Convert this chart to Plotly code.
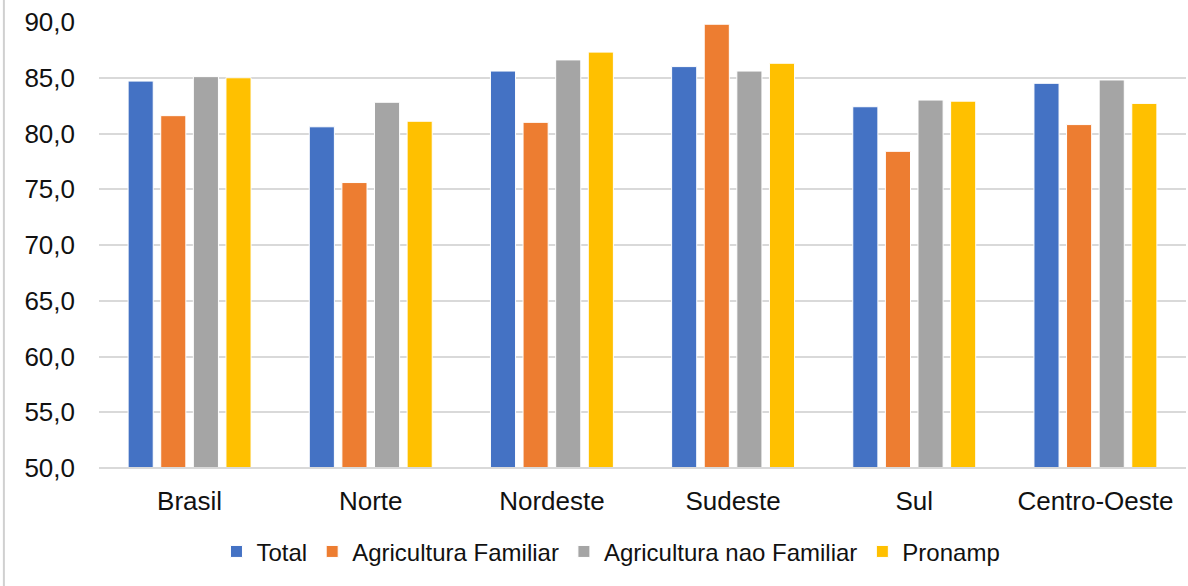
import plotly.graph_objects as go

# data
regioes = ["Brasil", "Norte", "Nordeste", "Sudeste", "Sul", "Centro-Oeste"]
total = [84.7, 80.6, 85.6, 86.0, 82.4, 84.5]
agric_familiar = [81.6, 75.6, 81.0, 89.8, 78.4, 80.8]
agric_nao_familiar = [85.1, 82.8, 86.6, 85.6, 83.0, 84.8]
pronamp = [85.0, 81.1, 87.3, 86.3, 82.9, 82.7]

series = [
    ("Total", total, "#4472C4"),
    ("Agricultura Familiar", agric_familiar, "#ED7D31"),
    ("Agricultura nao Familiar", agric_nao_familiar, "#A5A5A5"),
    ("Pronamp", pronamp, "#FFC000"),
]

fig = go.Figure()
for name, vals, col in series:
    fig.add_trace(go.Bar(
        x=regioes, y=vals, name=name,
        marker=dict(color=col, line=dict(color="white", width=1)),
    ))

font_fam = "Liberation Sans, Arial, sans-serif"

fig.update_layout(
    width=1188, height=586,
    margin=dict(l=99, r=2, t=22, b=118, autoexpand=False),
    paper_bgcolor="white", plot_bgcolor="white",
    separators=",.",
    barmode="group", bargap=0.28, bargroupgap=0.23,
    font=dict(family=font_fam, size=26, color="#111111"),
    showlegend=True,
    legend=dict(
        orientation="h", x=0.471, xanchor="center", y=-0.188, yanchor="middle",
        font=dict(size=24), itemwidth=30, traceorder="normal",
    ),
    xaxis=dict(
        showgrid=False, showline=False, ticks="", automargin=False,
        tickfont=dict(size=26), ticklabelstandoff=15,
    ),
    yaxis=dict(
        range=[50, 90], dtick=5, tickformat=".1f", automargin=False,
        showgrid=True, gridcolor="#D9D9D9", gridwidth=2,
        zeroline=False, showline=False, ticks="",
        ticklabelstandoff=23, tickfont=dict(size=26),
    ),
    shapes=[
        dict(type="line", xref="paper", yref="paper",
             x0=0, x1=1, y0=0, y1=0,
             line=dict(color="#D9D9D9", width=2)),
        dict(type="line", xref="paper", yref="paper",
             x0=-0.0875, x1=-0.0875, y0=-0.3, y1=1.06,
             line=dict(color="#D0D0D0", width=2)),
    ],
)

# page body has a default 8px margin; remove it so the figure fills the window
fig.write_html("out.html", config={"displayModeBar": False},
               post_script="document.body.style.margin='0';")
